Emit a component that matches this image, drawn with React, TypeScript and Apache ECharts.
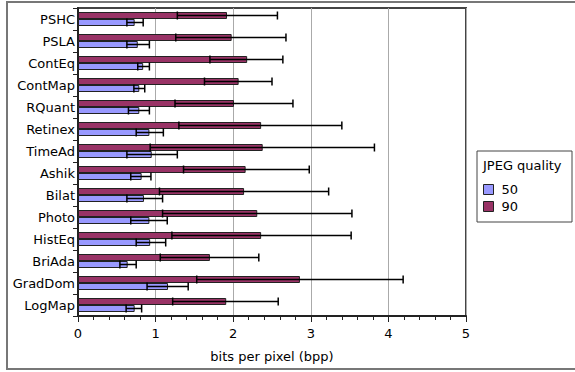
import React, { useEffect, useRef } from "react";
import * as echarts from "echarts";

const categories = ["PSHC", "PSLA", "ContEq", "ContMap", "RQuant", "Retinex", "TimeAd", "Ashik", "Bilat", "Photo", "HistEq", "BriAda", "GradDom", "LogMap"];
const q50 = [0.73, 0.77, 0.84, 0.79, 0.79, 0.92, 0.95, 0.82, 0.85, 0.92, 0.93, 0.64, 1.16, 0.73];
const q50Low = [0.63, 0.63, 0.77, 0.72, 0.65, 0.75, 0.63, 0.68, 0.63, 0.68, 0.75, 0.54, 0.89, 0.62];
const q50High = [0.84, 0.92, 0.92, 0.86, 0.92, 1.10, 1.28, 0.94, 1.09, 1.15, 1.13, 0.75, 1.42, 0.82];
const q90 = [1.92, 1.98, 2.18, 2.07, 2.01, 2.36, 2.38, 2.16, 2.14, 2.31, 2.36, 1.70, 2.86, 1.91];
const q90Low = [1.28, 1.26, 1.70, 1.63, 1.25, 1.30, 0.93, 1.36, 1.05, 1.09, 1.21, 1.06, 1.53, 1.22];
const q90High = [2.57, 2.68, 2.64, 2.50, 2.77, 3.40, 3.82, 2.98, 3.23, 3.53, 3.52, 2.33, 4.19, 2.58];
const xTicks = [0, 1, 2, 3, 4, 5];
const legendTitle = "JPEG quality";
const xAxisTitle = "bits per pixel (bpp)";

const FONT = "DejaVu Sans";
const BAR_W = 7;

function errorSeries(name: string, low: number[], high: number[], offset: number) {
  return {
    name: name + "-err",
    type: "custom",
    z: 5,
    silent: true,
    data: categories.map((_, i) => [i, low[i], high[i]]),
    encode: { y: 0, x: [1, 2] },
    renderItem: (_params: any, api: any) => {
      const cat = api.value(0);
      const p1 = api.coord([api.value(1), cat]);
      const p2 = api.coord([api.value(2), cat]);
      const y = p1[1] + offset;
      const cap = 4;
      const style = { stroke: "#000", lineWidth: 1.5 };
      return {
        type: "group",
        children: [
          { type: "line", shape: { x1: p1[0], y1: y, x2: p2[0], y2: y }, style },
          { type: "line", shape: { x1: p1[0], y1: y - cap, x2: p1[0], y2: y + cap }, style },
          { type: "line", shape: { x1: p2[0], y1: y - cap, x2: p2[0], y2: y + cap }, style },
        ],
      };
    },
  };
}

export default function App() {
  const ref = useRef<HTMLDivElement>(null);
  useEffect(() => {
    if (!ref.current) return;
    const chart = echarts.init(ref.current, undefined, { renderer: "svg" });
    chart.setOption({
      animation: false,
      backgroundColor: "#fff",
      textStyle: { fontFamily: FONT, color: "#000" },
      grid: { left: 78, right: 109, top: 8, bottom: 56, show: true, borderColor: "#444", borderWidth: 2 },
      xAxis: {
        type: "value",
        min: xTicks[0],
        max: xTicks[xTicks.length - 1],
        interval: 1,
        name: xAxisTitle,
        nameLocation: "middle",
        nameGap: 34,
        nameTextStyle: { fontFamily: FONT, fontSize: 13, color: "#000" },
        axisLine: { show: true, lineStyle: { color: "#222", width: 2 } },
        axisTick: { show: true, length: 6, lineStyle: { color: "#222", width: 1 } },
        minorTick: { show: true, splitNumber: 5, length: 4, lineStyle: { color: "#222", width: 1 } },
        splitLine: { show: true, lineStyle: { color: "#aaa", width: 1 } },
        axisLabel: { fontFamily: FONT, fontSize: 13, color: "#000", margin: 11 },
      },
      yAxis: {
        type: "category",
        data: categories,
        inverse: true,
        axisLine: { show: true, lineStyle: { color: "#222", width: 2 } },
        axisTick: { show: true, length: 5, lineStyle: { color: "#222", width: 1 } },
        axisLabel: { fontFamily: FONT, fontSize: 13, color: "#000", margin: 3 },
        splitLine: { show: false },
      },
      legend: {
        data: ["50", "90"],
        orient: "vertical",
        left: 483,
        top: 183,
        padding: 0,
        itemWidth: 10,
        itemHeight: 10,
        itemGap: 4,
        icon: "rect",
        textStyle: { fontFamily: FONT, fontSize: 13, color: "#000", padding: [0, 0, 0, 3] },
        itemStyle: { borderColor: "#222", borderWidth: 1 },
      },
      graphic: [
        { type: "rect", shape: { x: 7, y: 2, width: 580, height: 367 }, style: { fill: "none", stroke: "#777", lineWidth: 2 }, z: 0 },
        { type: "rect", shape: { x: 477, y: 151, width: 95, height: 71 }, style: { fill: "#fff", stroke: "#444", lineWidth: 1 }, z: 1 },
        { type: "text", x: 483, y: 159, style: { text: legendTitle, fontFamily: FONT, fontSize: 13, fill: "#000" }, z: 2 },
      ],
      series: [
        {
          name: "90",
          type: "bar",
          data: q90,
          barWidth: BAR_W,
          barGap: "0%",
          itemStyle: { color: "#993366", borderColor: "#222", borderWidth: 1 },
          z: 3,
        },
        {
          name: "50",
          type: "bar",
          data: q50,
          barWidth: BAR_W,
          barGap: "0%",
          itemStyle: { color: "#9999ff", borderColor: "#222", borderWidth: 1 },
          z: 3,
        },
        errorSeries("90", q90Low, q90High, -BAR_W / 2),
        errorSeries("50", q50Low, q50High, BAR_W / 2),
      ],
    });
    return () => chart.dispose();
  }, []);
  return <div ref={ref} style={{ position: "absolute", left: 0, top: 0, width: 575, height: 372 }} />;
}
